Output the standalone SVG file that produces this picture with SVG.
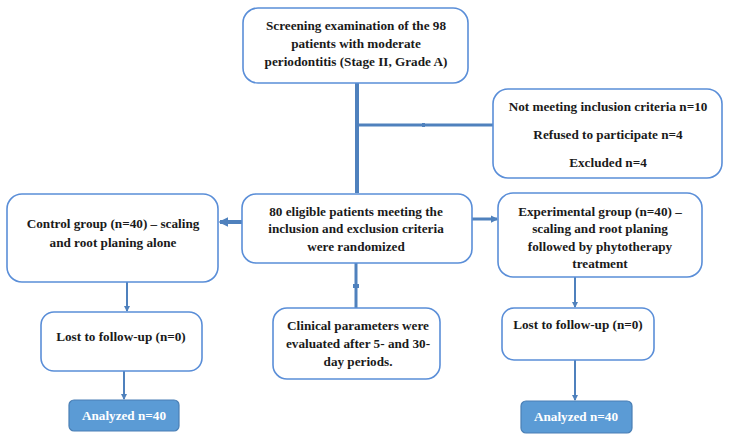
<svg xmlns="http://www.w3.org/2000/svg" width="729" height="442" viewBox="0 0 729 442">
<defs>
<style>
.box{fill:#ffffff;stroke:#5a8ed8;stroke-width:1.6}
.an{fill:#5b9bd5;stroke:#4a7fb5;stroke-width:1.2}
.t{font-family:"Liberation Serif","Times New Roman",serif;font-weight:bold;font-size:13.2px;fill:#1a1a1a;text-anchor:middle}
.tw{font-family:"Liberation Serif","Times New Roman",serif;font-weight:bold;font-size:13.2px;fill:#ffffff;text-anchor:middle}
.thick{stroke:#4f81bd;stroke-width:4;fill:none}
.med{stroke:#4f81bd;stroke-width:3;fill:none}
.thin{stroke:#4f81bd;stroke-width:2;fill:none}
</style>
<marker id="ah" viewBox="0 0 6 6" refX="5" refY="3" markerWidth="3" markerHeight="3" orient="auto" markerUnits="strokeWidth">
<path d="M0,0 L6,3 L0,6 Z" fill="#4f81bd"/>
</marker>
<marker id="ahs" viewBox="0 0 6 6" refX="5" refY="3" markerWidth="2.5" markerHeight="2.5" orient="auto" markerUnits="strokeWidth">
<path d="M0,0 L6,3 L0,6 Z" fill="#4f81bd"/>
</marker>
</defs>
<rect width="729" height="442" fill="#ffffff"/>
<g id="connectors">
<line class="thick" x1="357" y1="83" x2="357" y2="193"/>
<line class="med" x1="357" y1="125" x2="493" y2="125"/>
<rect x="422" y="123" width="3" height="4" fill="#4f81bd"/>
<line class="thick" x1="242" y1="222" x2="220" y2="222" marker-end="url(#ahs)"/>
<line class="med" x1="472" y1="219" x2="497" y2="219" marker-end="url(#ahs)"/>
<line class="med" x1="356" y1="263" x2="356" y2="308"/>
<rect x="353" y="284" width="6" height="4" fill="#4f81bd"/>
<line class="thin" x1="127" y1="282" x2="127" y2="311" marker-end="url(#ah)"/>
<line class="thin" x1="124" y1="371" x2="124" y2="399" marker-end="url(#ah)"/>
<line class="thin" x1="575" y1="277" x2="575" y2="307" marker-end="url(#ah)"/>
<line class="thin" x1="575" y1="360" x2="575" y2="400" marker-end="url(#ah)"/>
</g>
<g id="screening">
<rect class="box" x="243" y="8" width="225" height="75" rx="15"/>
<text class="t" x="356" y="30">Screening examination of the 98</text>
<text class="t" x="356" y="48">patients with moderate</text>
<text class="t" x="356" y="66">periodontitis (Stage II, Grade A)</text>
</g>
<g id="excluded">
<rect class="box" x="493" y="89" width="229" height="89" rx="15"/>
<text class="t" x="608" y="111">Not meeting inclusion criteria n=10</text>
<text class="t" x="608" y="139">Refused to participate n=4</text>
<text class="t" x="608" y="167">Excluded n=4</text>
</g>
<g id="randomized">
<rect class="box" x="242" y="194" width="230" height="69" rx="14"/>
<text class="t" x="356" y="216">80 eligible patients meeting the</text>
<text class="t" x="356" y="233">inclusion and exclusion criteria</text>
<text class="t" x="356" y="251">were randomized</text>
</g>
<g id="control">
<rect class="box" x="7" y="194" width="211" height="88" rx="15"/>
<text class="t" x="113" y="228">Control group (n=40) – scaling</text>
<text class="t" x="113" y="247">and root planing alone</text>
</g>
<g id="experimental">
<rect class="box" x="498" y="193" width="204" height="84" rx="15"/>
<text class="t" x="600" y="216">Experimental group (n=40) –</text>
<text class="t" x="600" y="233">scaling and root planing</text>
<text class="t" x="600" y="251">followed by phytotherapy</text>
<text class="t" x="600" y="268">treatment</text>
</g>
<g id="clinical">
<rect class="box" x="273" y="308" width="167" height="71" rx="14"/>
<text class="t" x="358" y="330">Clinical parameters were</text>
<text class="t" x="358" y="348">evaluated after 5- and 30-</text>
<text class="t" x="358" y="366">day periods.</text>
</g>
<g id="lost-control">
<rect class="box" x="41" y="312" width="161" height="59" rx="13"/>
<text class="t" x="121" y="341">Lost to follow-up (n=0)</text>
</g>
<g id="lost-experimental">
<rect class="box" x="502" y="308" width="152" height="52" rx="12"/>
<text class="t" x="578" y="329">Lost to follow-up (n=0)</text>
</g>
<g id="analyzed-control">
<rect class="an" x="69" y="400" width="110" height="31" rx="5"/>
<text class="tw" x="124" y="420">Analyzed n=40</text>
</g>
<g id="analyzed-experimental">
<rect class="an" x="521" y="401" width="111" height="32" rx="5"/>
<text class="tw" x="576" y="421">Analyzed n=40</text>
</g>
</svg>
